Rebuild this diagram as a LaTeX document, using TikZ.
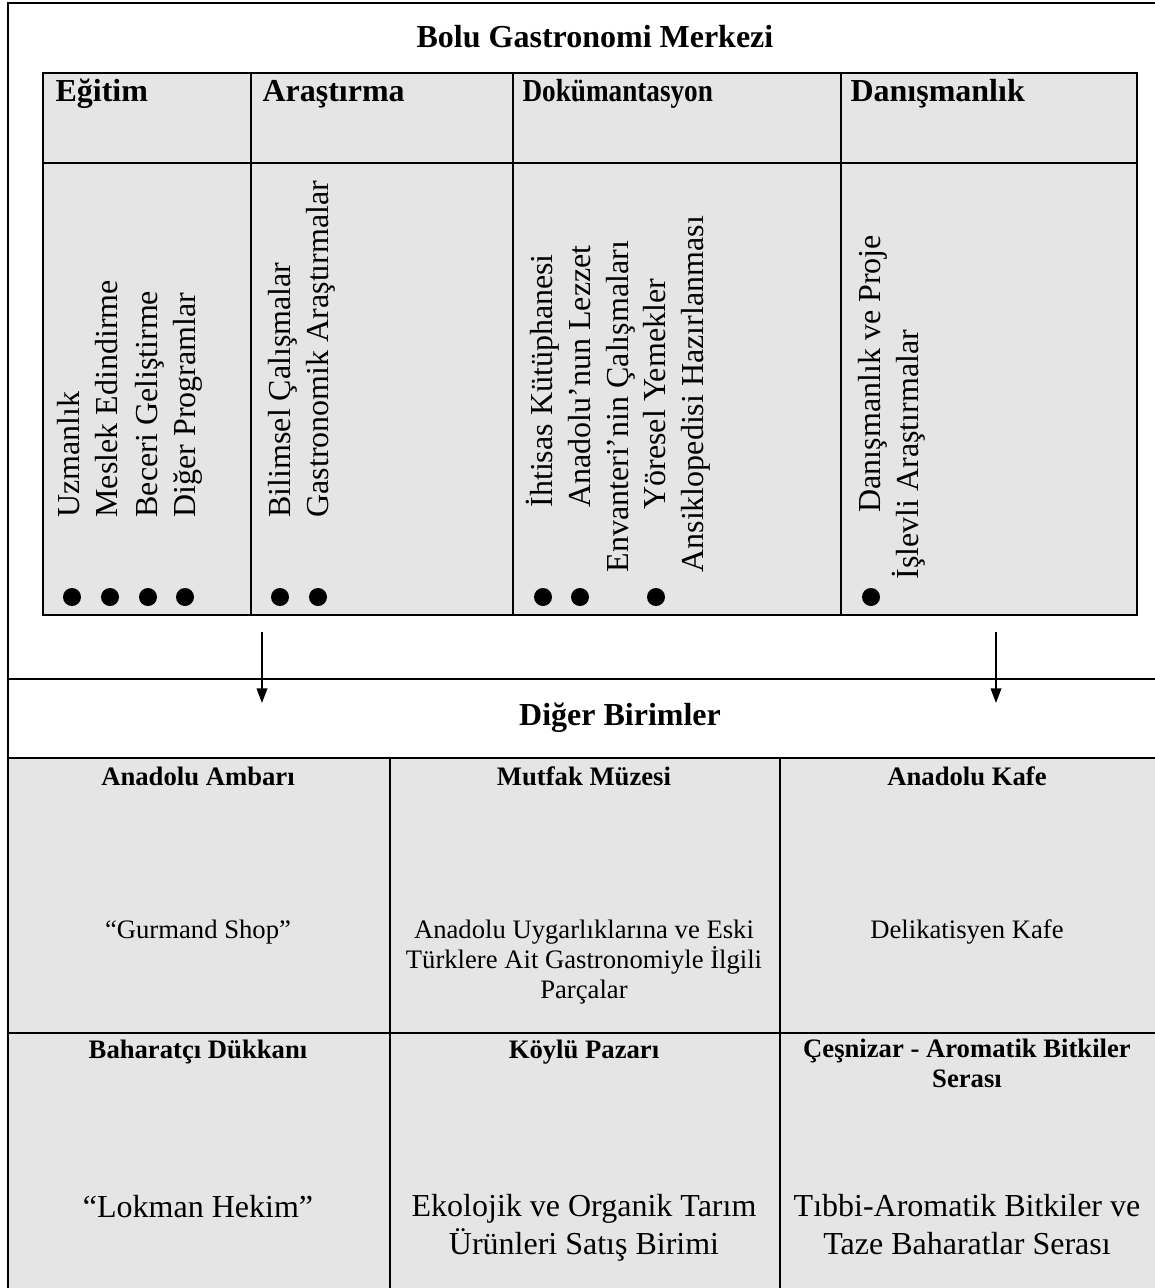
\documentclass[tikz,border=0pt]{standalone}
\usepackage{fontspec}
\setmainfont{Liberation Serif}
\usetikzlibrary{positioning, arrows.meta}

\begin{document}
\begin{tikzpicture}[
  x=0.375pt, y=-0.375pt,
  >={Triangle[length=5.5pt, width=4pt]},
  box/.style={rectangle, draw, line width=0.8pt, anchor=north west, inner sep=0pt},
  cell/.style={box, fill=gray!20},
  head/.style={font=\bfseries\fontsize{12}{14}\selectfont, inner sep=0pt, anchor=base west},
  item/.style={font=\fontsize{12}{14.25}\selectfont, rotate=90, inner sep=0pt, anchor=base west},
  dot/.style={circle, fill, inner sep=0pt, minimum size=6.75pt},
  unit/.style={font=\bfseries\fontsize{10}{10.9}\selectfont, inner sep=0pt, anchor=base, align=center},
  note/.style={font=\fontsize{10}{11.25}\selectfont, inner sep=0pt, anchor=base, align=center},
  bignote/.style={font=\fontsize{12}{13.9}\selectfont, inner sep=0pt, anchor=base, align=center},
]
  \path[use as bounding box, clip] (0,0) rectangle (1155,1288);

  \node[box, minimum width=432.4pt, minimum height=483.9pt] (frame) at (7,1.5) {};
  \node[head, anchor=base] (merkez) at (595,47) {Bolu Gastronomi Merkezi};

  \node[cell, minimum width=78pt, minimum height=33.75pt] (egitim) at (42,72) {};
  \node[cell, minimum width=98.25pt, minimum height=33.75pt] (arastirma) at (250,72) {};
  \node[cell, minimum width=123pt, minimum height=33.75pt] (dokuman) at (512,72) {};
  \node[cell, minimum width=111pt, minimum height=33.75pt] (danisman) at (840,72) {};
  \node[cell, minimum width=78pt, minimum height=169.5pt] (egitimlist) at (42,162) {};
  \node[cell, minimum width=98.25pt, minimum height=169.5pt] (arastirmalist) at (250,162) {};
  \node[cell, minimum width=123pt, minimum height=169.5pt] (dokumanlist) at (512,162) {};
  \node[cell, minimum width=111pt, minimum height=169.5pt] (danismanlist) at (840,162) {};

  \node[head] (egitimbaslik) at (55,101) {Eğitim};
  \node[head] (arastirmabaslik) at (262,101) {Araştırma};
  \node[head] (dokumanbaslik) at (522,101) {\scalebox{0.85}[1]{Dokümantasyon}};
  \node[head] (danismanbaslik) at (850,101) {Danışmanlık};

  \node[item] (uzman) at (80,518) {Uzmanlık};
  \node[item] (meslek) at (118,518) {Meslek Edindirme};
  \node[item] (beceri) at (157,518) {Beceri Geliştirme};
  \node[item] (program) at (195,518) {Diğer Programlar};
  \node[item] (bilimsel) at (290,518) {Bilimsel Çalışmalar};
  \node[item] (gastro) at (328,518) {Gastronomik Araştırmalar};
  \node[item] (ihtisas) at (552,508) {İhtisas Kütüphanesi};
  \node[item] (lezzet) at (590,508) {Anadolu’nun Lezzet};
  \node[item] (envanter) at (628,573) {Envanteri’nin Çalışmaları};
  \node[item] (yoresel) at (665,510) {Yöresel Yemekler};
  \node[item] (ansiklopedi) at (703,573) {Ansiklopedisi Hazırlanması};
  \node[item] (proje) at (880,513) {Danışmanlık ve Proje};
  \node[item] (islevli) at (918,580) {İşlevli Araştırmalar};

  \node[dot] (e1) at (72,597) {};
  \node[dot] (e2) at (110,597) {};
  \node[dot] (e3) at (148,597) {};
  \node[dot] (e4) at (185,597) {};
  \node[dot] (a1) at (280,597) {};
  \node[dot] (a2) at (318,597) {};
  \node[dot] (d1) at (543,597) {};
  \node[dot] (d2) at (580,597) {};
  \node[dot] (d3) at (656,597) {};
  \node[dot] (n1) at (871,597) {};

  \node[box, minimum width=432.4pt, minimum height=29.625pt] (birimler) at (7,678) {};
  \node[head, anchor=base] (birimlerbaslik) at (620,725) {Diğer Birimler};

  \coordinate (solcikis) at (262,632);
  \coordinate (solvaris) at (262,703);
  \coordinate (sagcikis) at (996,632);
  \coordinate (sagvaris) at (996,703);
  \draw[->, line width=0.6pt] (solcikis) -- (solvaris);
  \draw[->, line width=0.6pt] (sagcikis) -- (sagvaris);

  \node[cell, minimum width=143.25pt, minimum height=103.125pt] (ambar) at (7,757) {};
  \node[cell, minimum width=146.25pt, minimum height=103.125pt] (muze) at (389,757) {};
  \node[cell, minimum width=142.875pt, minimum height=103.125pt] (kafe) at (779,757) {};
  \node[cell, minimum width=143.25pt, minimum height=97.5pt] (baharat) at (7,1032) {};
  \node[cell, minimum width=146.25pt, minimum height=97.5pt] (pazar) at (389,1032) {};
  \node[cell, minimum width=142.875pt, minimum height=97.5pt] (sera) at (779,1032) {};

  \node[unit] (ambarbaslik) at (198,785) {Anadolu Ambarı};
  \node[unit] (muzebaslik) at (584,785) {Mutfak Müzesi};
  \node[unit] (kafebaslik) at (967,785) {Anadolu Kafe};
  \node[note] (gurmand) at (198,938) {“Gurmand Shop”};
  \node[note] (parcalar) at (584,998) {Anadolu Uygarlıklarına ve Eski\\Türklere Ait Gastronomiyle İlgili\\Parçalar};
  \node[note] (delikatisyen) at (967,938) {Delikatisyen Kafe};

  \node[unit] (baharatbaslik) at (198,1058) {Baharatçı Dükkanı};
  \node[unit] (pazarbaslik) at (584,1058) {Köylü Pazarı};
  \node[unit] (serabaslik) at (967,1087) {Çeşnizar - Aromatik Bitkiler\\Serası};
  \node[bignote] (lokman) at (198,1217) {“Lokman Hekim”};
  \node[bignote] (ekolojik) at (584,1254) {Ekolojik ve Organik Tarım\\Ürünleri Satış Birimi};
  \node[bignote] (tibbi) at (967,1254) {Tıbbi-Aromatik Bitkiler ve\\Taze Baharatlar Serası};
\end{tikzpicture}
\end{document}
